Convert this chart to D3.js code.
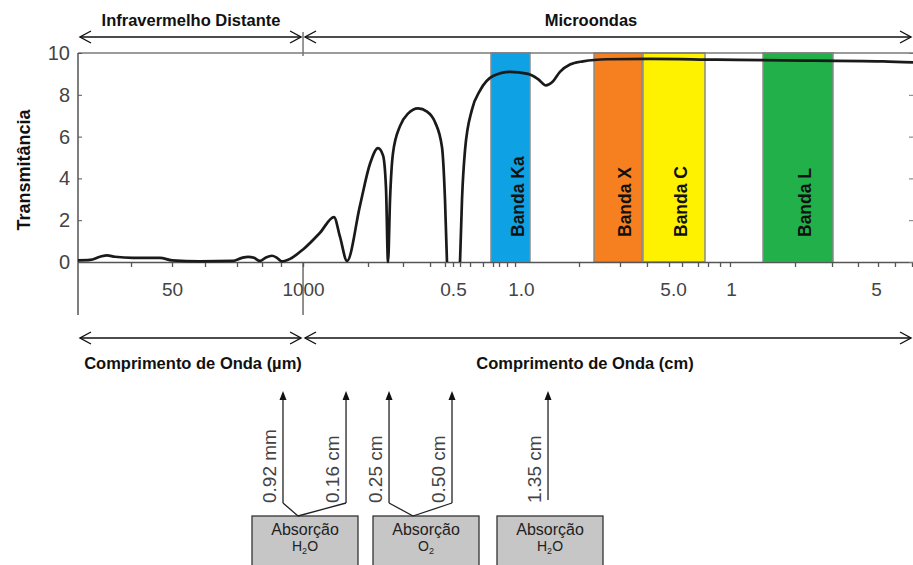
<!DOCTYPE html>
<html>
<head>
<meta charset="utf-8">
<script src="https://cdn.jsdelivr.net/npm/d3@7"></script>
<style>
    body { margin: 0; background: #fff; }
    svg { display: block; }
    text { font-family: "Liberation Sans", Arial, sans-serif; }
</style>
</head>
<body>
<div id="grafico"></div>
<script>
// posição ao longo do eixo composto (0 a 100) e transmitância
const posCurva = [0, 1.44, 2.63, 3.47, 4.43, 6.59, 9.82, 11.26, 14.61, 18.56, 19.64, 20.36, 21.08, 21.80,
    22.51, 23.23, 23.83, 24.43, 25.39, 26.95, 28.98, 30.66, 31.38, 32.22, 33.77, 34.97, 35.93, 36.53,
    36.89, 37.13, 37.37, 37.72, 38.56, 39.52, 40.72, 41.80, 42.75, 43.59, 43.95, 44.19,
    45.75, 45.99, 46.35, 47.19, 48.14, 49.70, 51.74, 53.89, 55.09, 56.05, 56.77, 57.72, 58.92, 60.48,
    63.35, 68.50, 76.53, 84.43, 96.41, 100];
const transCurva = [0.08, 0.1, 0.25, 0.32, 0.25, 0.2, 0.2, 0.08, 0.03, 0.05, 0.2, 0.25, 0.2, 0.05,
    0.22, 0.3, 0.2, 0.03, 0.15, 0.6, 1.4, 2.15, 1.2, 0.05, 2.7, 4.7, 5.45, 5.1,
    3.5, 0, 3.0, 5.2, 6.5, 7.1, 7.35, 7.2, 6.7, 5.5, 3.0, 0,
    0, 3.0, 5.35, 7.3, 8.2, 8.9, 9.1, 9.0, 8.75, 8.45, 8.6, 9.1, 9.45, 9.6,
    9.7, 9.72, 9.68, 9.65, 9.6, 9.55];
// a curva fica no zero entre 0.5 e a subida seguinte: desenhada em dois trechos
const quebraCurva = 40;

const nomesBandas = ["Banda Ka", "Banda X", "Banda C", "Banda L"];
const inicioBandas = [49.46, 61.80, 67.66, 82.04];
const fimBandas = [54.13, 67.54, 75.09, 90.42];
const coresBandas = ["#0ea1e3", "#f6801f", "#fff200", "#22b04b"];

const ticksY = [0, 2, 4, 6, 8, 10];
const ticksX = [6.35, 11.26, 15.21, 19.04, 22.04, 24.31, 26.95, 34.73, 38.92, 42.16, 43.95, 44.91,
    45.75, 46.95, 48.50, 49.70, 50.42, 51.38, 52.34, 60.0, 64.91, 68.14, 70.78, 72.34, 74.25, 75.45,
    76.89, 78.08, 85.87, 90.30, 93.41, 95.81, 97.84, 99.88];
const posRotulosX = [11.26, 26.95, 44.91, 53.05, 71.26, 78.20, 95.57];
const rotulosX = ["50", "1000", "0.5", "1.0", "5.0", "1", "5"];

// divisão das regiões do espectro
const limiteRegiao = 26.95;
const regioes = ["Infravermelho Distante", "Microondas"];
const unidades = ["Comprimento de Onda (µm)", "Comprimento de Onda (cm)"];

// linhas de absorção
const rotulosAbsorcao = ["0.92 mm", "0.16 cm", "0.25 cm", "0.50 cm", "1.35 cm"];
const posAbsorcao = [24.55, 32.10, 37.25, 44.79, 56.29];
const grupoAbsorcao = [0, 0, 1, 1, 2];
const gases = [["H", "2", "O"], ["O", "2", ""], ["H", "2", "O"]];

const largura = 913, altura = 565;
const esquerda = 78, direita = 913, topo = 53, base = 262;

const x = d3.scaleLinear().domain([0, 100]).range([esquerda, direita]);
const y = d3.scaleLinear().domain([0, 10]).range([base, topo]);

const $svg = d3.select("#grafico")
    .append("svg")
    .attr("width", largura)
    .attr("height", altura);

// bandas coloridas
const bandas = $svg.append("g");
nomesBandas.forEach((nome, i) => {
    bandas.append("rect")
        .attr("x", x(inicioBandas[i]))
        .attr("y", y(10))
        .attr("width", x(fimBandas[i]) - x(inicioBandas[i]))
        .attr("height", y(0) - y(10))
        .attr("fill", coresBandas[i])
        .attr("stroke", "#8a8a8a")
        .attr("stroke-width", 1.5);
});

// moldura
$svg.append("line")
    .attr("x1", esquerda).attr("x2", direita)
    .attr("y1", topo).attr("y2", topo)
    .attr("stroke", "#7a7a7a").attr("stroke-width", 1.5);

$svg.append("g")
    .attr("transform", `translate(0,${base})`)
    .call(d3.axisBottom(x).tickValues(ticksX).tickSize(5).tickSizeOuter(0).tickFormat(""))
    .call(g => g.selectAll("line").attr("stroke", "#555").attr("stroke-width", 1.3))
    .call(g => g.select(".domain").attr("stroke", "#555").attr("stroke-width", 1.5));

$svg.append("g")
    .attr("transform", `translate(0,${base})`)
    .call(d3.axisBottom(x).tickValues(posRotulosX).tickSize(0).tickPadding(21)
        .tickFormat((d, i) => rotulosX[i]))
    .call(g => g.select(".domain").remove())
    .call(g => g.selectAll("text")
        .attr("font-size", 19)
        .attr("font-family", "'Liberation Sans', Arial, sans-serif")
        .attr("fill", "#444"));

$svg.append("g")
    .attr("transform", `translate(${esquerda},0)`)
    .call(d3.axisLeft(y).tickValues(ticksY).tickSize(-4).tickSizeOuter(0).tickPadding(8))
    .call(g => g.select(".domain").remove())
    .call(g => g.selectAll("line").attr("stroke", "#555"))
    .call(g => g.selectAll("text")
        .attr("font-size", 20)
        .attr("font-family", "'Liberation Sans', Arial, sans-serif")
        .attr("fill", "#444"));

$svg.append("g")
    .attr("transform", `translate(${direita},0)`)
    .call(d3.axisRight(y).tickValues(ticksY).tickSize(-4).tickSizeOuter(0).tickFormat(""))
    .call(g => g.select(".domain").remove())
    .call(g => g.selectAll("line").attr("stroke", "#777"));

// eixo esquerdo e separador das regiões
$svg.append("line")
    .attr("x1", esquerda).attr("x2", esquerda)
    .attr("y1", topo).attr("y2", 315)
    .attr("stroke", "#555").attr("stroke-width", 1.5);
$svg.append("line")
    .attr("x1", x(limiteRegiao)).attr("x2", x(limiteRegiao))
    .attr("y1", base).attr("y2", 315)
    .attr("stroke", "#555").attr("stroke-width", 1.3);
$svg.append("line")
    .attr("x1", x(limiteRegiao)).attr("x2", x(limiteRegiao))
    .attr("y1", 32).attr("y2", 56)
    .attr("stroke", "#777").attr("stroke-width", 1.5);

// rótulos das bandas
nomesBandas.forEach((nome, i) => {
    const cx = (x(inicioBandas[i]) + x(fimBandas[i])) / 2 + 7;
    $svg.append("text")
        .attr("transform", `translate(${cx},237) rotate(-90)`)
        .attr("dy", "0.35em")
        .attr("font-size", 17.5)
        .attr("font-weight", "bold")
        .attr("fill", "#111")
        .text(nome);
});

// curva de transmitância
const linha = d3.line()
    .x(d => x(d[0]))
    .y(d => y(d[1]))
    .curve(d3.curveMonotoneX);

const pontos = posCurva.map((p, i) => [p, transCurva[i]]);
[pontos.slice(0, quebraCurva), pontos.slice(quebraCurva)].forEach(trecho => {
    $svg.append("path")
        .attr("d", linha(trecho))
        .attr("fill", "none")
        .attr("stroke", "#1a1a1a")
        .attr("stroke-width", 2.7)
        .attr("stroke-linejoin", "round");
});

// título do eixo y
$svg.append("text")
    .attr("transform", "translate(24,170) rotate(-90)")
    .attr("text-anchor", "middle")
    .attr("dy", "0.35em")
    .attr("font-size", 18)
    .attr("font-weight", "bold")
    .attr("fill", "#111")
    .text("Transmitância");

// setas de duas pontas
const seta = (x1, x2, yy) => {
    const g = $svg.append("g")
        .attr("stroke", "#111")
        .attr("stroke-width", 1.4)
        .attr("fill", "none");
    g.append("line").attr("x1", x1).attr("x2", x2).attr("y1", yy).attr("y2", yy);
    g.append("polyline").attr("points", `${x1 + 11},${yy - 6} ${x1},${yy} ${x1 + 11},${yy + 6}`);
    g.append("polyline").attr("points", `${x2 - 11},${yy - 6} ${x2},${yy} ${x2 - 11},${yy + 6}`);
};

const limitesRegioes = [[0, limiteRegiao], [limiteRegiao, 100]];
limitesRegioes.forEach(([a, b], i) => {
    const x1 = x(a) + 2, x2 = x(b) - 2;
    seta(x1, x2, 37);
    seta(x1, x2, 338);
    $svg.append("text")
        .attr("x", i === 0 ? 191 : 591)
        .attr("y", 26)
        .attr("text-anchor", "middle")
        .attr("font-size", 16.5)
        .attr("font-weight", "bold")
        .attr("fill", "#111")
        .text(regioes[i]);
    $svg.append("text")
        .attr("x", i === 0 ? 193 : 585)
        .attr("y", 369)
        .attr("text-anchor", "middle")
        .attr("font-size", 16.5)
        .attr("font-weight", "bold")
        .attr("fill", "#111")
        .text(unidades[i]);
});

// caixas de absorção
const caixasX = [305, 426, 550];
const juncaoX = [298, 413, 548];
const topoCaixa = 516;

gases.forEach((gas, i) => {
    $svg.append("rect")
        .attr("x", caixasX[i] - 53)
        .attr("y", topoCaixa)
        .attr("width", 106)
        .attr("height", 60)
        .attr("fill", "#c6c6c6")
        .attr("stroke", "#333")
        .attr("stroke-width", 1.3);
    $svg.append("text")
        .attr("x", caixasX[i])
        .attr("y", 535)
        .attr("text-anchor", "middle")
        .attr("font-size", 16)
        .attr("fill", "#222")
        .text("Absorção");
    const t = $svg.append("text")
        .attr("x", caixasX[i])
        .attr("y", 551)
        .attr("text-anchor", "middle")
        .attr("font-size", 14)
        .attr("fill", "#222");
    t.append("tspan").text(gas[0]);
    t.append("tspan").attr("font-size", 9).attr("dy", 3).text(gas[1]);
    if (gas[2]) t.append("tspan").attr("dy", -3).text(gas[2]);
});

rotulosAbsorcao.forEach((rotulo, i) => {
    const xl = x(posAbsorcao[i]);
    const grupo = grupoAbsorcao[i];
    const emPar = grupoAbsorcao.filter(g => g === grupo).length > 1;
    const g = $svg.append("g").attr("stroke", "#222").attr("stroke-width", 1.3).attr("fill", "none");
    g.append("line").attr("x1", xl).attr("x2", xl).attr("y1", 398).attr("y2", emPar ? 503 : 500);
    if (emPar) {
        g.append("line").attr("x1", xl).attr("x2", juncaoX[grupo]).attr("y1", 503).attr("y2", topoCaixa);
    }
    $svg.append("path")
        .attr("d", `M${xl},391 L${xl - 3.5},400 L${xl + 3.5},400 Z`)
        .attr("fill", "#111");
    $svg.append("text")
        .attr("transform", `translate(${xl - 7},503) rotate(-90)`)
        .attr("font-size", 19)
        .attr("fill", "#444")
        .text(rotulo);
});
</script>
</body>
</html>
